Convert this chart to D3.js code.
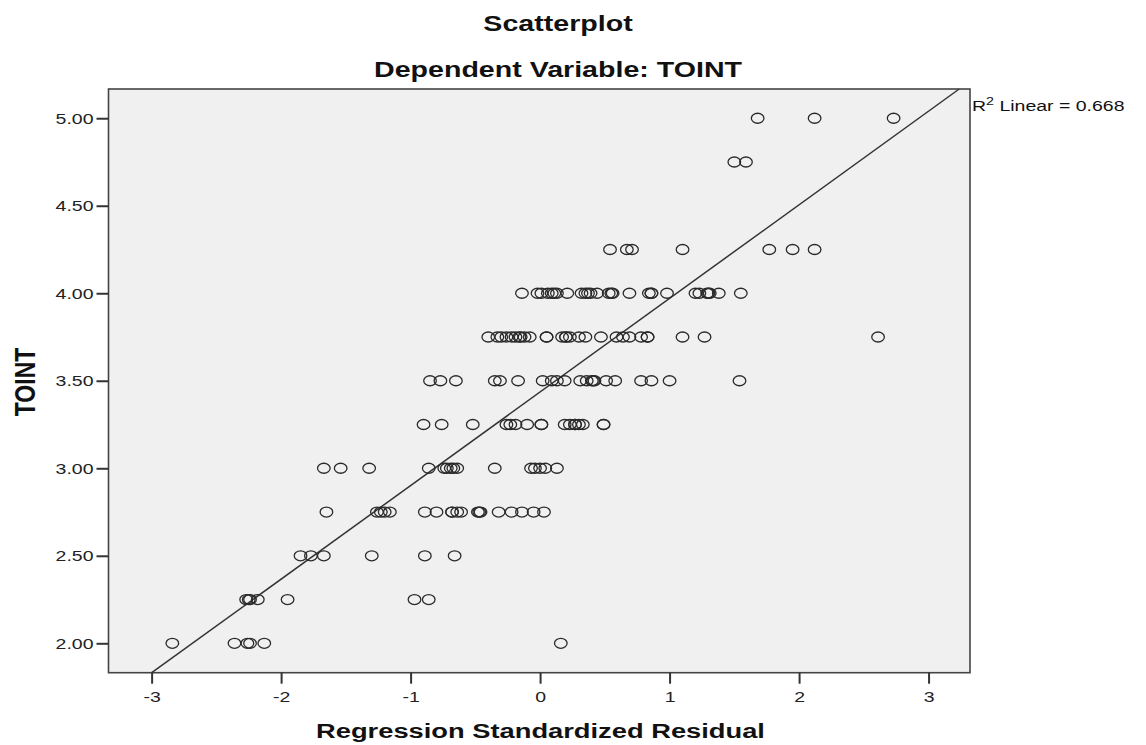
<!DOCTYPE html>
<html>
  <head>
    <meta charset="utf-8">
    <title>Scatterplot - Dependent Variable: TOINT</title>
    <script src="https://cdn.jsdelivr.net/npm/d3@7"></script>
    <style>
      body { margin: 0; background: #fff; }
      text { font-family: "Liberation Sans", Arial, sans-serif; fill: #111; }
      .bold { font-weight: bold; }
      .tick line { stroke: #333; stroke-width: 2; }
      .tick text { font-size: 15px; fill: #222; }
    </style>
  </head>
  <body>
    <svg id="chart" width="1146" height="745"></svg>
    <script>
      // residuals at each TOINT level
      const res500 = [1.68, 2.12, 2.73];
      const res475 = [1.50, 1.59];
      const res425 = [0.54, 0.67, 0.71, 1.10, 1.77, 1.95, 2.12];
      const res400 = [-0.14, -0.02, 0.01, 0.06, 0.09, 0.11, 0.13, 0.21, 0.32, 0.35, 0.37, 0.39, 0.44,
        0.53, 0.55, 0.56, 0.69, 0.84, 0.86, 0.86, 0.98, 1.20, 1.23, 1.29, 1.30, 1.31, 1.38, 1.55];
      const res375 = [-0.40, -0.33, -0.30, -0.26, -0.22, -0.19, -0.16, -0.15, -0.12, -0.08, 0.05, 0.05,
        0.17, 0.20, 0.20, 0.23, 0.30, 0.35, 0.47, 0.59, 0.64, 0.69, 0.78, 0.83, 0.83, 1.10, 1.27, 2.61];
      const res350 = [-0.85, -0.77, -0.65, -0.35, -0.31, -0.17, 0.02, 0.09, 0.13, 0.19, 0.31, 0.36,
        0.40, 0.41, 0.42, 0.51, 0.58, 0.78, 0.86, 1.00, 1.54];
      const res325 = [-0.90, -0.76, -0.52, -0.26, -0.23, -0.19, -0.10, 0.01, 0.01, 0.19, 0.23, 0.27,
        0.27, 0.30, 0.33, 0.49, 0.49];
      const res300 = [-1.67, -1.54, -1.32, -0.86, -0.74, -0.72, -0.69, -0.67, -0.64, -0.35, -0.07,
        -0.04, 0.00, 0.04, 0.13];
      const res275 = [-1.65, -1.26, -1.23, -1.20, -1.16, -0.89, -0.80, -0.68, -0.68, -0.64, -0.61,
        -0.48, -0.47, -0.46, -0.32, -0.22, -0.14, -0.05, 0.03];
      const res250 = [-1.85, -1.77, -1.67, -1.30, -0.89, -0.66];
      const res225 = [-2.27, -2.25, -2.24, -2.18, -1.95, -0.97, -0.86];
      const res200 = [-2.84, -2.36, -2.26, -2.24, -2.13, 0.16];

      const tointLevels = [5.00, 4.75, 4.25, 4.00, 3.75, 3.50, 3.25, 3.00, 2.75, 2.50, 2.25, 2.00];
      const residualRows = [res500, res475, res425, res400, res375, res350, res325, res300, res275, res250, res225, res200];

      const xTicks = [-3, -2, -1, 0, 1, 2, 3];
      const yTicks = [2.00, 2.50, 3.00, 3.50, 4.00, 4.50, 5.00];
      const fitIntercept = 3.436;
      const fitSlope = 0.5348;
      const rSquared = 0.668;

      // flatten into points
      const points = [];
      residualRows.forEach(function(row, i) {
        row.forEach(function(r) { points.push({ residual: r, toint: tointLevels[i] }); });
      });

      // the picture is stretched sideways, so text is too
      const sx = 1.3;
      const plot = { left: 108.5, right: 970, top: 89, bottom: 672.7 };

      const chart = d3.select("#chart");

      const x = d3.scaleLinear()
        .domain([-3.333, 3.32])
        .range([plot.left, plot.right]);
      const y = d3.scaleLinear()
        .domain([1.832, 5.167])
        .range([plot.bottom, plot.top]);

      // frame
      chart.append("rect")
        .attr("x", plot.left)
        .attr("y", plot.top)
        .attr("width", plot.right - plot.left)
        .attr("height", plot.bottom - plot.top)
        .attr("fill", "#f0f0f0")
        .attr("stroke", "#444")
        .attr("stroke-width", 1.6);

      // axes
      const yAxis = d3.axisLeft(y)
        .tickValues(yTicks)
        .tickFormat(d3.format(".2f"))
        .tickSize(12);
      const yAxisGroup = chart.append("g")
        .attr("transform", "translate(" + plot.left + ",0)")
        .call(yAxis);
      yAxisGroup.select(".domain").remove();
      yAxisGroup.selectAll(".tick text")
        .attr("x", null)
        .attr("font-family", null)
        .attr("transform", "translate(-15,0) scale(" + sx + ",1)");

      const xAxis = d3.axisBottom(x)
        .tickValues(xTicks)
        .tickFormat(function(d) { return String(d); })
        .tickSize(11);
      const xAxisGroup = chart.append("g")
        .attr("transform", "translate(0," + plot.bottom + ")")
        .call(xAxis);
      xAxisGroup.select(".domain").remove();
      xAxisGroup.selectAll(".tick text")
        .attr("y", 19)
        .attr("font-family", null)
        .attr("transform", "scale(" + sx + ",1)");
      chart.selectAll(".tick text").attr("font-size", null);

      // fit line, clipped to the frame
      const [dx0, dx1] = x.domain();
      const [dy0, dy1] = y.domain();
      const lx0 = Math.max(dx0, (dy0 - fitIntercept) / fitSlope);
      const lx1 = Math.min(dx1, (dy1 - fitIntercept) / fitSlope);
      chart.append("line")
        .attr("x1", x(lx0))
        .attr("y1", y(fitIntercept + fitSlope * lx0))
        .attr("x2", x(lx1))
        .attr("y2", y(fitIntercept + fitSlope * lx1))
        .attr("stroke", "#333")
        .attr("stroke-width", 1.5);

      // points
      chart.append("g")
        .selectAll("ellipse")
        .data(points)
        .enter().append("ellipse")
          .attr("cx", function(d) { return x(d.residual); })
          .attr("cy", function(d) { return y(d.toint); })
          .attr("rx", 6.3)
          .attr("ry", 5)
          .attr("fill", "none")
          .attr("stroke", "#2a2a2a")
          .attr("stroke-width", 1.3);

      // texts
      function stretchedText(str, tx, ty, size, cls, extra) {
        return chart.append("text")
          .attr("class", cls)
          .attr("text-anchor", "middle")
          .attr("font-size", size)
          .attr("transform", "translate(" + tx + "," + ty + ") scale(" + sx + ",1)" + (extra || ""))
          .text(str);
      }
      stretchedText("Scatterplot", 558, 31, 22, "bold");
      stretchedText("Dependent Variable: TOINT", 558, 77, 22, "bold");
      stretchedText("Regression Standardized Residual", 540.5, 738, 21, "bold");
      stretchedText("TOINT", 25, 382, 23, "bold", " rotate(-90)")
        .attr("dy", "0.35em");

      const r2 = chart.append("text")
        .attr("font-size", 15)
        .attr("transform", "translate(972,110.5) scale(" + sx + ",1)");
      r2.append("tspan").text("R");
      r2.append("tspan").attr("font-size", 11).attr("dy", -6).text("2");
      r2.append("tspan").attr("dy", 6).text(" Linear = " + d3.format(".3f")(rSquared));
    </script>
  </body>
</html>
